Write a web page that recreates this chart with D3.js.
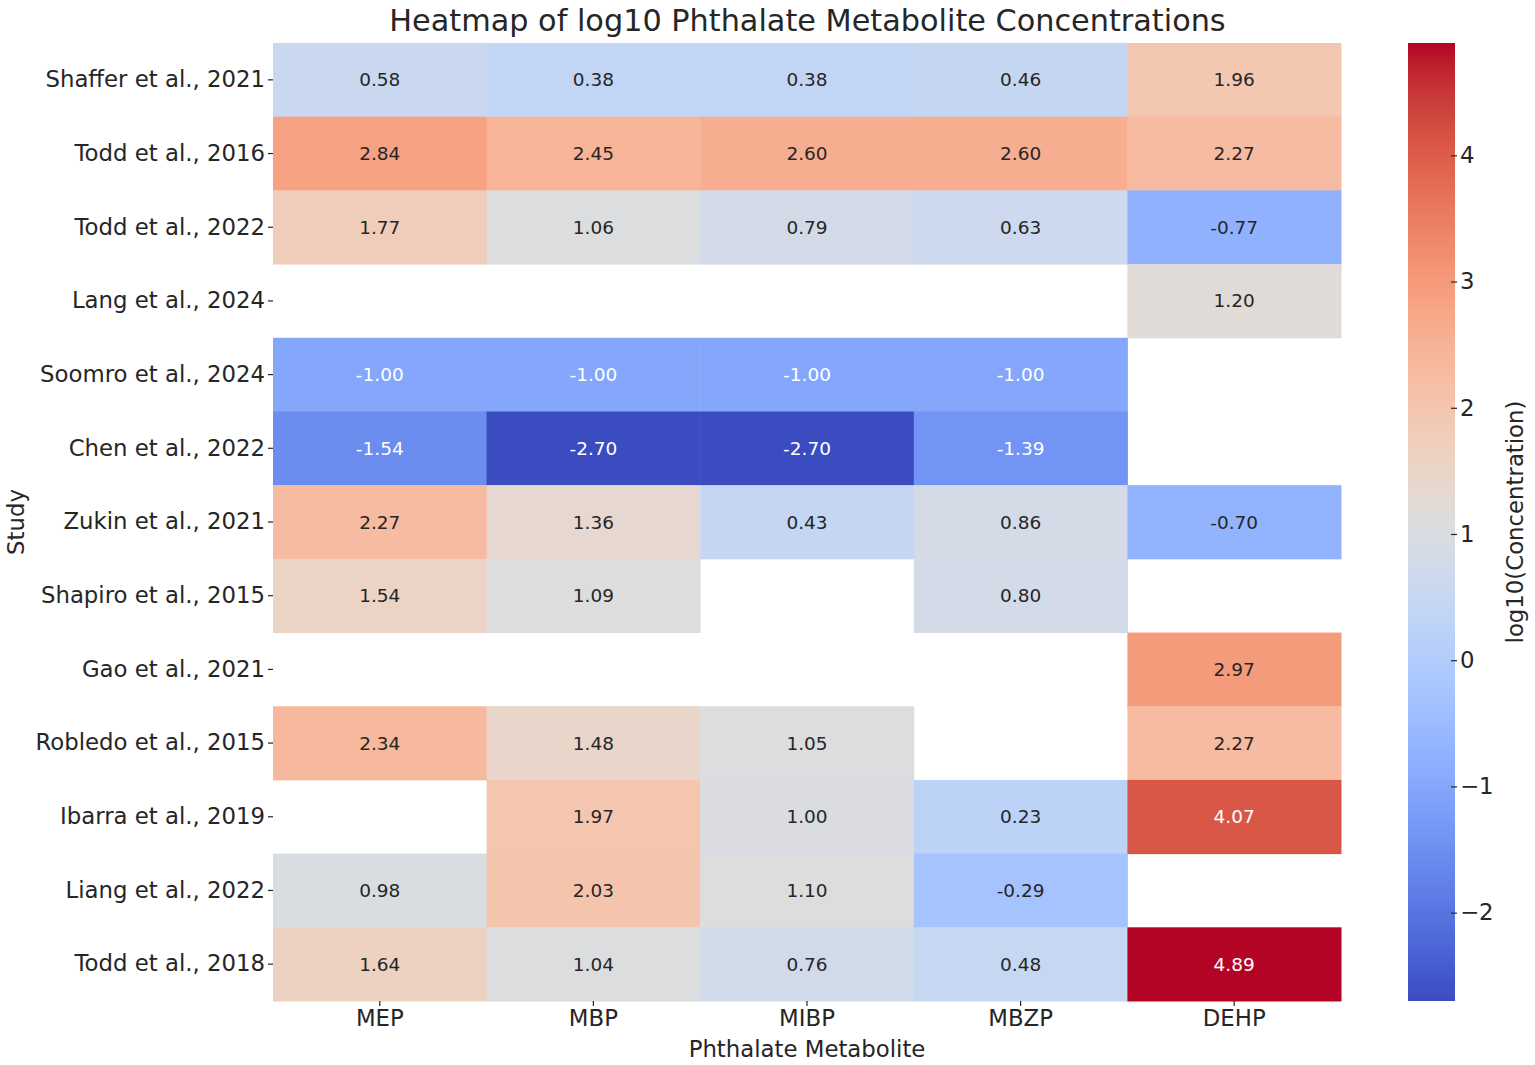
<!DOCTYPE html>
<html><head><meta charset="utf-8">
<script src="https://cdn.jsdelivr.net/npm/d3@7"></script>
<style>body{margin:0;background:#fff;} svg{display:block;} text{font-family:"DejaVu Sans",sans-serif;fill:#262626;}</style>
</head><body><svg id="c" width="1535" height="1065"></svg>
<script>
const studies = ["Shaffer et al., 2021","Todd et al., 2016","Todd et al., 2022","Lang et al., 2024","Soomro et al., 2024","Chen et al., 2022","Zukin et al., 2021","Shapiro et al., 2015","Gao et al., 2021","Robledo et al., 2015","Ibarra et al., 2019","Liang et al., 2022","Todd et al., 2018"];
const metabolites = ["MEP","MBP","MIBP","MBZP","DEHP"];
const MEP  = [0.58, 2.84, 1.77, null, -1.00, -1.54, 2.27, 1.54, null, 2.34, null, 0.98, 1.64];
const MBP  = [0.38, 2.45, 1.06, null, -1.00, -2.70, 1.36, 1.09, null, 1.48, 1.97, 2.03, 1.04];
const MIBP = [0.38, 2.60, 0.79, null, -1.00, -2.70, 0.43, null, null, 1.05, 1.00, 1.10, 0.76];
const MBZP = [0.46, 2.60, 0.63, null, -1.00, -1.39, 0.86, 0.80, null, null, 0.23, -0.29, 0.48];
const DEHP = [1.96, 2.27, -0.77, 1.20, null, null, -0.70, null, 2.97, 2.27, 4.07, null, 4.89];
const colorbarTicks = [-2,-1,0,1,2,3,4];
const title = "Heatmap of log10 Phthalate Metabolite Concentrations";
const xLabel = "Phthalate Metabolite", yLabel = "Study", cbLabel = "log10(Concentration)";

const series = [MEP, MBP, MIBP, MBZP, DEHP];
const cells = [];
series.forEach((arr, j) => arr.forEach((v, i) => { if (v !== null) cells.push({row: studies[i], col: metabolites[j], v}); }));
const allVals = cells.map(d => d.v);
const vmin = d3.min(allVals), vmax = d3.max(allVals);

// matplotlib coolwarm (Moreland) anchor colors
const cw = [[59,76,192],[68,90,204],[77,104,215],[87,117,225],[98,130,234],[108,142,241],[119,154,247],[130,165,251],[141,176,254],[152,185,255],[163,194,255],[174,201,253],[184,208,249],[194,213,244],[204,217,238],[213,219,230],[221,221,221],[229,216,209],[236,211,197],[241,204,184],[245,196,172],[247,187,160],[247,177,148],[247,166,135],[244,154,123],[241,141,111],[236,127,99],[229,112,88],[222,96,77],[213,80,66],[203,62,56],[192,40,47],[180,4,38]];
const coolwarm = d3.scaleLinear().domain(cw.map((_, i) => i/(cw.length-1))).range(cw.map(c => `rgb(${c[0]},${c[1]},${c[2]})`)).interpolate(d3.interpolateRgb).clamp(true);
const norm = d3.scaleLinear().domain([vmin, vmax]).range([0,1]);
const color = v => coolwarm(norm(v));

function lum(c) {
  const r = d3.rgb(c);
  const f = x => { x /= 255; return x <= 0.03928 ? x/12.92 : Math.pow((x+0.055)/1.055, 2.4); };
  return 0.2126*f(r.r) + 0.7152*f(r.g) + 0.0722*f(r.b);
}

const svg = d3.select("#c");
const L = 273, R = 1341, T = 43, B = 1001;
const x = d3.scaleBand().domain(metabolites).range([L, R]);
const y = d3.scaleBand().domain(studies).range([T, B]);

svg.selectAll("rect.cell").data(cells).join("rect").attr("class","cell")
  .attr("x", d => x(d.col)).attr("y", d => y(d.row))
  .attr("width", x.bandwidth()+0.5).attr("height", y.bandwidth()+0.5)
  .attr("fill", d => color(d.v));

svg.selectAll("text.ann").data(cells).join("text").attr("class","ann")
  .attr("x", d => x(d.col) + x.bandwidth()/2).attr("y", d => y(d.row) + y.bandwidth()/2)
  .attr("text-anchor","middle").attr("dominant-baseline","central")
  .style("font-size","18.5px")
  .style("fill", d => lum(color(d.v)) > 0.408 ? "#262626" : "#ffffff")
  .text(d => d3.format(".2f")(d.v).replace("\u2212", "-"));

// axes
const yAxis = d3.axisLeft(y).tickSize(5).tickPadding(3);
const gy = svg.append("g").attr("transform", `translate(${L},0)`).call(yAxis);
gy.select(".domain").remove();
gy.selectAll("text").style("font-size","22.8px").style("fill","#262626");
gy.selectAll("line").attr("stroke","#262626").attr("stroke-width",1.2);

const xAxis = d3.axisBottom(x).tickSize(5).tickPadding(4);
const gx = svg.append("g").attr("transform", `translate(0,${B})`).call(xAxis);
gx.select(".domain").remove();
gx.selectAll("text").style("font-size","22.8px").style("fill","#262626");
gx.selectAll("line").attr("stroke","#262626").attr("stroke-width",1.2);

svg.append("text").attr("x", (L+R)/2).attr("y", 1057).attr("text-anchor","middle").style("font-size","22.8px").text(xLabel);
svg.append("text").attr("transform", `translate(24,${(T+B)/2}) rotate(-90)`).attr("text-anchor","middle").style("font-size","22.8px").text(yLabel);
svg.append("text").attr("x", (L+R)/2 + 0.5).attr("y", 31).attr("text-anchor","middle").style("font-size","30.3px").text(title);

// colorbar
const cbX = 1408, cbW = 47;
const cbScale = d3.scaleLinear().domain([vmin, vmax]).range([B, T]);
const defs = svg.append("defs");
const grad = defs.append("linearGradient").attr("id","cbg").attr("x1","0").attr("y1","1").attr("x2","0").attr("y2","0");
d3.range(0, 1.0001, 1/64).forEach(t => grad.append("stop").attr("offset", t).attr("stop-color", coolwarm(t)));
svg.append("rect").attr("x", cbX).attr("y", T).attr("width", cbW).attr("height", B-T).attr("fill","url(#cbg)");
const cbAxis = d3.axisRight(cbScale).tickValues(colorbarTicks).tickSize(6).tickPadding(3).tickFormat(d => d < 0 ? "\u2212" + Math.abs(d) : d);
const gc = svg.append("g").attr("transform", `translate(${cbX+cbW-4},0)`).call(cbAxis);
gc.select(".domain").remove();
gc.selectAll("text").style("font-size","22.8px").style("fill","#262626");
gc.selectAll("line").attr("stroke","#262626").attr("stroke-width",1.2);
svg.append("text").attr("transform", `translate(1523,${(T+B)/2}) rotate(-90)`).attr("text-anchor","middle").style("font-size","22.8px").text(cbLabel);
</script></body></html>
